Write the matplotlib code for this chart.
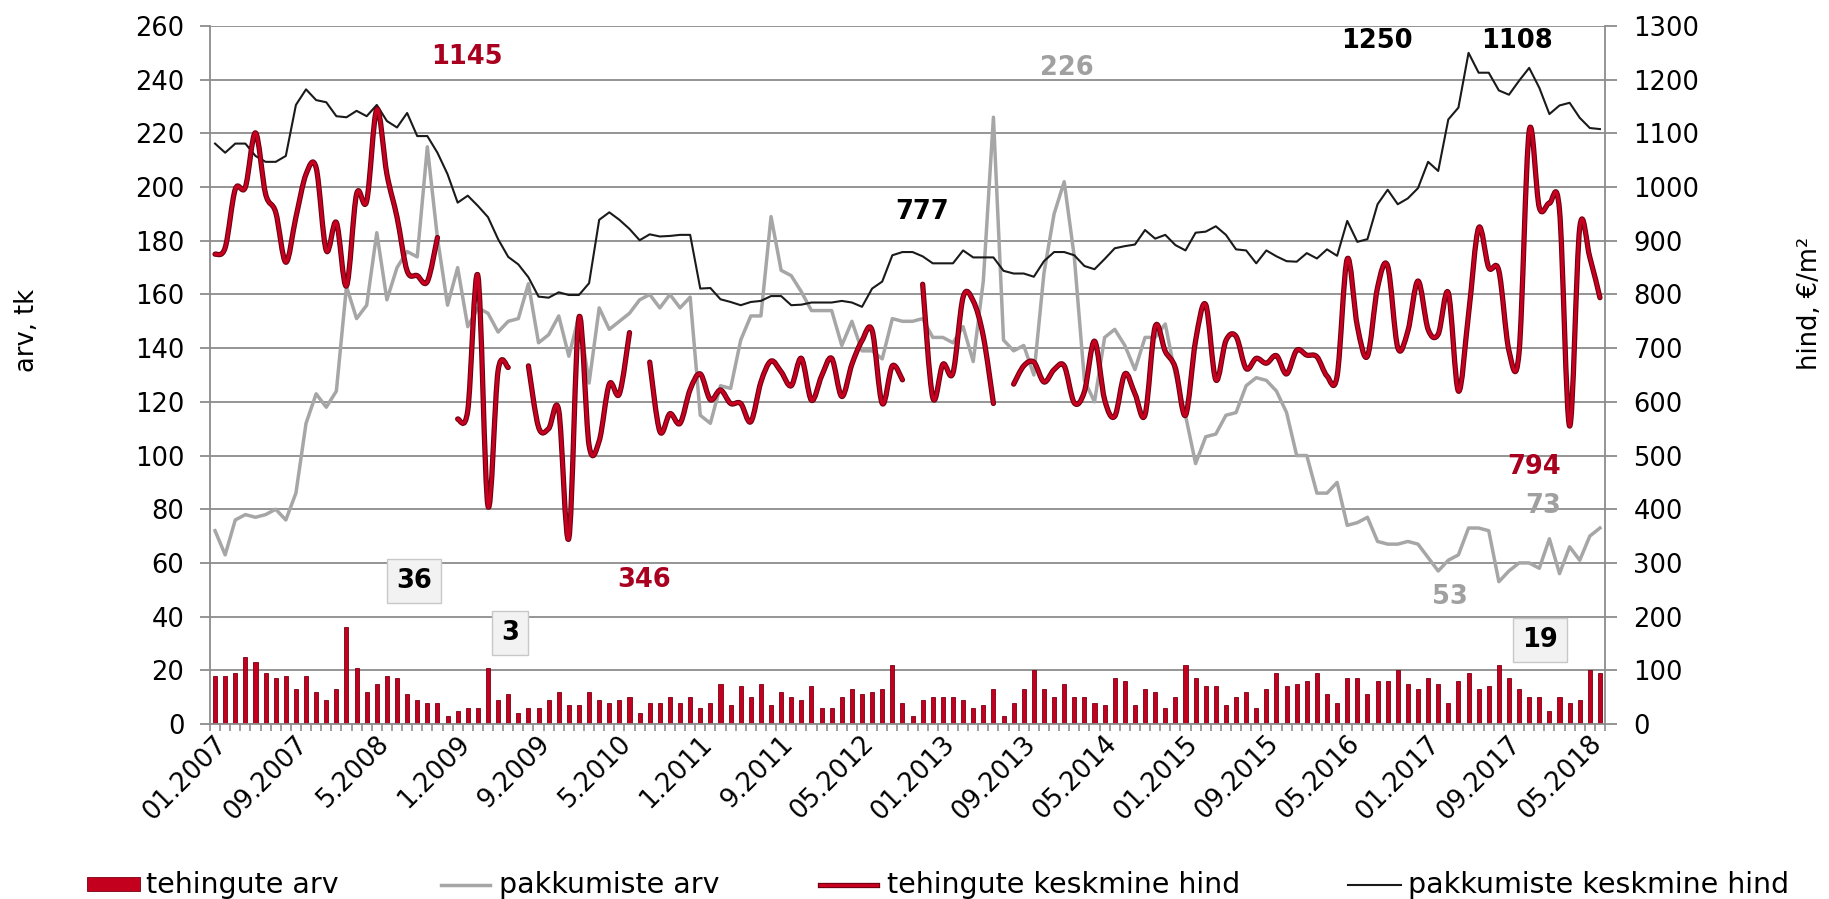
import numpy as np
import matplotlib
matplotlib.use('Agg')
import matplotlib.pyplot as plt
import matplotlib.transforms as mtransforms
from matplotlib.path import Path
from matplotlib.patches import PathPatch, Rectangle
from matplotlib.lines import Line2D

plt.rcParams['font.family'] = ['DejaVu Sans']

tick_labels = ['01.2007', '09.2007', '5.2008', '1.2009', '9.2009', '5.2010', '1.2011',
               '9.2011', '05.2012', '01.2013', '09.2013', '05.2014', '01.2015',
               '09.2015', '05.2016', '01.2017', '09.2017', '05.2018']

# tehingute arv (bars, left axis)
tehingute_arv = [
    18, 18, 19, 25, 23, 19, 17, 18, 13, 18,
    12, 9, 13, 36, 21, 12, 15, 18, 17, 11,
    9, 8, 8, 3, 5, 6, 6, 21, 9, 11,
    4, 6, 6, 9, 12, 7, 7, 12, 9, 8,
    9, 10, 4, 8, 8, 10, 8, 10, 6, 8,
    15, 7, 14, 10, 15, 7, 12, 10, 9, 14,
    6, 6, 10, 13, 11, 12, 13, 22, 8, 3,
    9, 10, 10, 10, 9, 6, 7, 13, 3, 8,
    13, 20, 13, 10, 15, 10, 10, 8, 7, 17,
    16, 7, 13, 12, 6, 10, 22, 17, 14, 14,
    7, 10, 12, 6, 13, 19, 14, 15, 16, 19,
    11, 8, 17, 17, 11, 16, 16, 20, 15, 13,
    17, 15, 8, 16, 19, 13, 14, 22, 17, 13,
    10, 10, 5, 10, 8, 9, 20, 19]

# pakkumiste arv (grey line, left axis)
pakkumiste_arv = [
    72, 63, 76, 78, 77, 78, 80, 76, 86, 112,
    123, 118, 124, 163, 151, 156, 183, 158, 170, 176,
    174, 215, 181, 156, 170, 148, 155, 153, 146, 150,
    151, 164, 142, 145, 152, 137, 152, 127, 155, 147,
    150, 153, 158, 160, 155, 160, 155, 159, 115, 112,
    126, 125, 143, 152, 152, 189, 169, 167, 161, 154,
    154, 154, 141, 150, 139, 139, 136, 151, 150, 150,
    151, 144, 144, 142, 148, 135, 165, 226, 143, 139,
    141, 130, 168, 190, 202, 174, 128, 120, 144, 147,
    141, 132, 144, 144, 149, 130, 115, 97, 107, 108,
    115, 116, 126, 129, 128, 124, 116, 100, 100, 86,
    86, 90, 74, 75, 77, 68, 67, 67, 68, 67,
    62, 57, 61, 63, 73, 73, 72, 53, 57, 60,
    60, 58, 69, 56, 66, 61, 70, 73]

# tehingute keskmine hind (red smoothed line, right axis)
tehingute_hind = [
    875, 887, 996, 1000, 1101, 987, 953, 860, 944, 1024,
    1036, 882, 934, 816, 987, 974, 1145, 1024, 944, 844,
    835, 824, 906, None, 568, 584, 835, 406, 658, 664,
    None, 667, 553, 550, 584, 346, 757, 519, 527, 633,
    615, 729, None, 674, 545, 578, 560, 623, 652, 604,
    622, 597, 597, 563, 637, 676, 656, 630, 681, 603,
    648, 681, 610, 670, 714, 733, 597, 667, 641, None,
    819, 608, 670, 654, 795, 788, 722, 597, None, 633,
    667, 674, 637, 660, 667, 598, 619, 713, 604, 573,
    652, 615, 576, 740, 694, 663, 575, 714, 781, 641,
    714, 722, 662, 681, 672, 686, 652, 696, 687, 684,
    648, 648, 866, 741, 685, 813, 853, 701, 732, 825,
    735, 726, 803, 620, 763, 924, 850, 844, 695, 692,
    1104, 962, 970, 957, 555, 924, 869, 794]

# pakkumiste keskmine hind (black line, right axis)
pakkumiste_hind = [
    1081, 1064, 1081, 1081, 1058, 1047, 1047, 1058, 1153, 1182,
    1162, 1158, 1132, 1130, 1142, 1132, 1153, 1123, 1111, 1138,
    1095, 1095, 1064, 1024, 971, 984, 965, 944, 903, 870,
    856, 832, 796, 794, 804, 799, 799, 821, 939, 953,
    939, 922, 901, 912, 908, 909, 911, 911, 811, 812,
    791, 786, 780, 786, 788, 797, 797, 780, 781, 785,
    785, 785, 788, 785, 777, 811, 824, 873, 879, 879,
    871, 858, 858, 858, 882, 869, 869, 869, 844, 839,
    839, 833, 862, 879, 879, 873, 853, 847, 866, 886,
    890, 893, 920, 904, 911, 892, 882, 915, 917, 927,
    911, 884, 882, 858, 882, 871, 862, 861, 877, 867,
    884, 872, 937, 898, 903, 968, 995, 968, 979, 998,
    1047, 1030, 1126, 1148, 1250, 1213, 1213, 1180, 1172, 1198,
    1222, 1185, 1136, 1152, 1157, 1129, 1110, 1108]

W, H = 1829, 899
fig = plt.figure(figsize=(W / 100, H / 100), dpi=100)
fig.patch.set_facecolor('white')
L, R, T, B = 210, 1605, 26, 724
ax = fig.add_axes([L / W, 1 - B / H, (R - L) / W, (B - T) / H])
ax2 = ax.twinx()

GRID = '#8c8c8c'
FS = 18.5
LFS = 20.5
x = np.arange(len(tehingute_arv))

ax.set_xlim(-0.5, len(x) - 0.5)
ax.set_ylim(0, 260)
ax2.set_ylim(0, 1300)
ax.set_yticks(range(0, 261, 20))
ax2.set_yticks(range(0, 1301, 100))
ax.grid(axis='y', color=GRID, lw=1.3)
ax.set_axisbelow(True)

ax.bar(x, tehingute_arv, width=0.4, color='#c4001f', edgecolor='#7a0014',
       linewidth=0.6, zorder=2)
ax.plot(x, pakkumiste_arv, color='#a6a6a6', lw=2.5, zorder=3)

ax2.plot(x, pakkumiste_hind, color='#1a1a1a', lw=1.5, zorder=3)


def smooth_path(xs, ys):
    verts = [(xs[0], ys[0])]
    codes = [Path.MOVETO]
    n = len(xs)
    for i in range(n - 1):
        a = i - 1 if i > 0 else i
        d = i + 2 if i + 2 < n else i + 1
        c1 = (xs[i] + (xs[i + 1] - xs[a]) / 6.0, ys[i] + (ys[i + 1] - ys[a]) / 6.0)
        c2 = (xs[i + 1] - (xs[d] - xs[i]) / 6.0, ys[i + 1] - (ys[d] - ys[i]) / 6.0)
        verts += [c1, c2, (xs[i + 1], ys[i + 1])]
        codes += [Path.CURVE4] * 3
    return Path(verts, codes)


segs = []
cur = []
for i, v in enumerate(tehingute_hind):
    if v is None:
        if cur:
            segs.append(cur)
        cur = []
    else:
        cur.append((i, v))
if cur:
    segs.append(cur)
for s in segs:
    xs = [p[0] for p in s]
    ys = [p[1] for p in s]
    pth = smooth_path(xs, ys)
    ax2.add_patch(PathPatch(pth, fill=False, edgecolor='#6a0010', lw=3.8,
                            capstyle='round', joinstyle='round', zorder=4))
    ax2.add_patch(PathPatch(pth, fill=False, edgecolor='#c8001f', lw=2.3,
                            capstyle='round', joinstyle='round', zorder=5))

# spines
for sp in ['top', 'right']:
    ax.spines[sp].set_visible(False)
for sp in ['top', 'left', 'bottom']:
    ax2.spines[sp].set_visible(False)
ax.spines['left'].set_color(GRID)
ax.spines['left'].set_linewidth(1.3)
ax.spines['bottom'].set_color(GRID)
ax.spines['bottom'].set_linewidth(1.3)
ax2.spines['right'].set_color(GRID)
ax2.spines['right'].set_linewidth(1.3)

ax.tick_params(axis='y', length=7.5, width=1.3, color=GRID, labelsize=FS, pad=11)
ax2.tick_params(axis='y', length=8.5, width=1.3, color=GRID, labelsize=FS, pad=12)

ax.set_xticks(np.arange(0, len(x), 8))
ax.set_xticklabels(tick_labels)
ax.set_xticks(np.arange(-0.5, len(x) + 0.5, 1), minor=True)
ax.tick_params(axis='x', which='major', length=0, labelsize=FS, pad=13)
ax.tick_params(axis='x', which='minor', length=5, width=1.2, color=GRID)
shift = mtransforms.ScaledTranslation(8 / 100, 2 / 100, fig.dpi_scale_trans)
for lab in ax.get_xticklabels():
    lab.set_rotation(45)
    lab.set_ha('right')
    lab.set_va('center')
    lab.set_rotation_mode('anchor')
    lab.set_transform(lab.get_transform() + shift)

fig.text(27 / W, 1 - 330 / H, 'arv, tk', rotation=90, ha='center', va='center', fontsize=FS)
fig.text(1810 / W, 1 - 303 / H, 'hind, €/m²', rotation=90, ha='center', va='center', fontsize=FS)

RED_T = '#a8001e'
GRAY_T = '#a0a0a0'
ann = [('1145', 467, 57, RED_T, False), ('226', 1067, 68, GRAY_T, False),
       ('1250', 1377, 41, 'black', False), ('1108', 1517, 41, 'black', False),
       ('777', 922, 212, 'black', False), ('346', 644, 580, RED_T, False),
       ('794', 1534, 467, RED_T, False), ('73', 1543, 506, GRAY_T, False),
       ('53', 1450, 597, GRAY_T, False), ('36', 414, 581, 'black', True),
       ('3', 510, 633, 'black', True), ('19', 1540, 640, 'black', True)]
for txt, px, py, col, box in ann:
    kw = {}
    if box:
        kw['bbox'] = dict(boxstyle='square,pad=0.35', fc='#f2f2f2', ec='#c8c8c8', lw=1)
    fig.text(px / W, 1 - py / H, txt, ha='center', va='center', fontsize=FS,
             fontweight='bold', color=col, **kw)

# legend (manual)
ly = 1 - 885 / H
fig.add_artist(Rectangle((87 / W, 1 - 891 / H), 53 / W, 14 / H, transform=fig.transFigure,
                         facecolor='#c4001f', edgecolor='#7a0014', lw=0.6))
fig.text(146 / W, ly, 'tehingute arv', ha='left', va='center', fontsize=LFS)
fig.add_artist(Line2D([441 / W, 490 / W], [ly, ly], transform=fig.transFigure,
                      color='#a6a6a6', lw=2.5))
fig.text(499 / W, ly, 'pakkumiste arv', ha='left', va='center', fontsize=LFS)
fig.add_artist(Line2D([820 / W, 877 / W], [ly, ly], transform=fig.transFigure,
                      color='#6a0010', lw=3.8))
fig.add_artist(Line2D([820 / W, 877 / W], [ly, ly], transform=fig.transFigure,
                      color='#c8001f', lw=2.3))
fig.text(887 / W, ly, 'tehingute keskmine hind', ha='left', va='center', fontsize=LFS)
fig.add_artist(Line2D([1348 / W, 1401 / W], [ly, ly], transform=fig.transFigure,
                      color='#1a1a1a', lw=1.5))
fig.text(1408 / W, ly, 'pakkumiste keskmine hind', ha='left', va='center', fontsize=LFS)

fig.savefig('out.png', dpi=100, facecolor='white')
